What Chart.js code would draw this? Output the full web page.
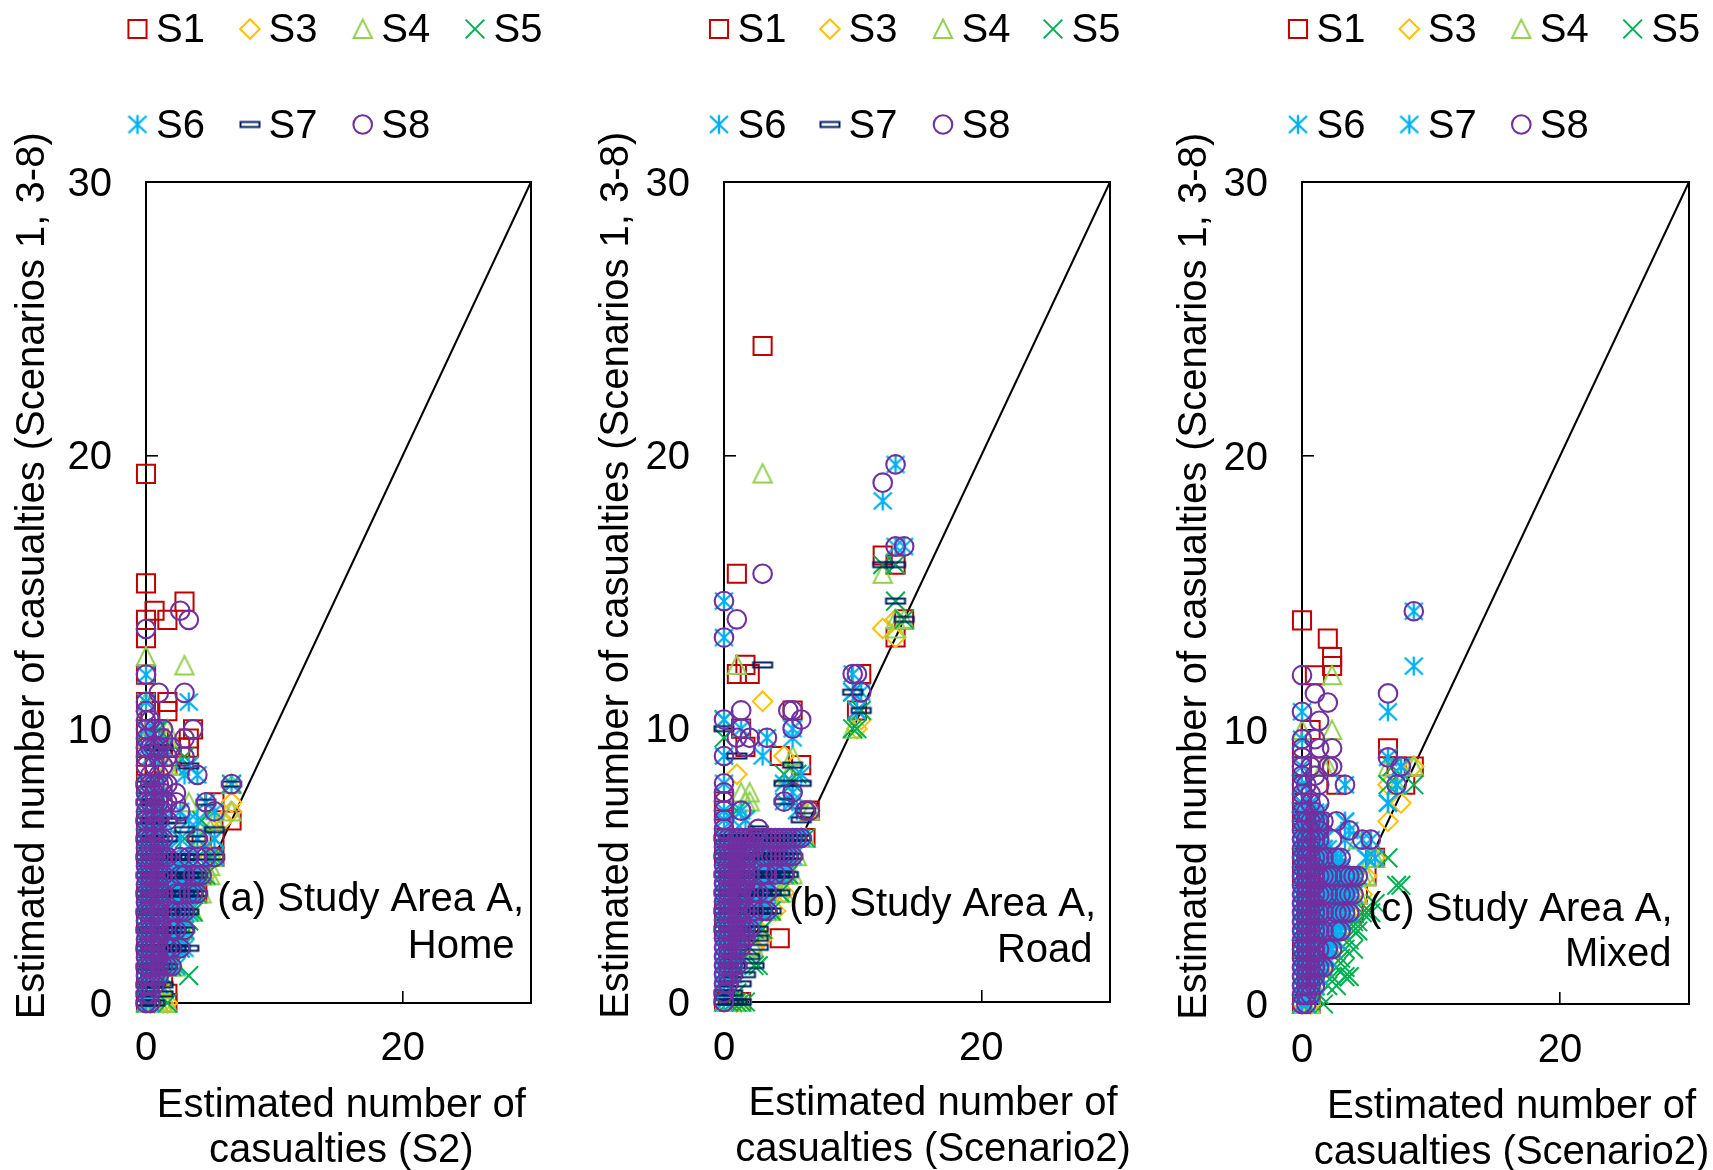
<!DOCTYPE html>
<html><head><meta charset="utf-8">
<script src="https://cdn.jsdelivr.net/npm/chart.js@4/dist/chart.umd.min.js"></script>
<style>html,body{margin:0;padding:0;background:#fff;width:1713px;height:1170px;overflow:hidden}canvas{position:absolute;top:0}</style>
</head><body>
<canvas id="a" style="left:0" width="575" height="1170"></canvas>
<canvas id="b" style="left:575px" width="575" height="1170"></canvas>
<canvas id="c" style="left:1150px" width="563" height="1170"></canvas>
<script>
// Every point sits on a grid of thirds of a casualty.
// Each row is [y in thirds, [x in thirds, ...]].
const SERIES_NAMES = ['S1','S3','S4','S5','S6','S7','S8'];
const Y_TICKS = [0,10,20,30], X_TICKS = [0,20], DIAGONAL = [0,30];

const A_S1=[[0,[0,5]],[1,[5]],[3,[0,4]],[6,[0]],[9,[0]],[12,[0,12]],[14,[13]],[16,[0,16]],[18,[0,13,16]],[20,[0,20]],[22,[16]],[24,[0,2]],[26,[0,2,5]],[27,[0,6]],[28,[0,4,8,10]],[29,[1,3,10]],[30,[0,2,11]],[32,[1,5]],[33,[0,5]],[36,[0]],[40,[0]],[42,[0,5]],[43,[2]],[44,[9]],[46,[0]],[58,[0]]];
const A_S3=[[0,[0,1,2,4,5]],[2,[3]],[4,[5,6]],[6,[7]],[8,[8]],[10,[9,10]],[12,[11,12]],[14,[13,14]],[16,[15,16]],[18,[12]],[20,[15,18]],[21,[20]],[22,[20]]];
const A_S4=[[0,[0,2,3,4,5]],[2,[3,4]],[4,[6,7]],[6,[7]],[8,[8,9]],[10,[10,11]],[12,[12,13]],[14,[14,15]],[15,[15]],[16,[16]],[18,[13]],[20,[14,16]],[21,[20]],[22,[10]],[24,[3,20]],[26,[5,8]],[29,[0,5]],[30,[5]],[33,[0]],[37,[9]],[38,[0]]];
const A_S5=[[0,[0,5]],[3,[1,4,10]],[4,[5,6]],[6,[4,7,8]],[7,[8]],[8,[7,9]],[9,[9,10]],[10,[10,11]],[12,[11,12]],[14,[12,13,14]],[16,[15,16]],[18,[9,12,16]],[20,[13]],[24,[20]],[26,[10]],[27,[9]],[30,[3]]];
const A_S6=[[0,[0,1]],[1,[0,1]],[2,[0,1,3]],[3,[0,1,2,3]],[4,[0,1,2,3,4,5,7]],[5,[0,1,2,3,4,5]],[6,[0,1,2,3,4,5,6,7,8,9]],[7,[0,1,2,3,4,5,6]],[8,[0,1,2,3,4,5,6,7,8,9]],[9,[0,1,2,3,4,5,6,7]],[10,[0,1,2,3,4,5,6,7,8,9,10]],[11,[0,1,2,3,4,5,6,7,8]],[12,[0,1,2,3,4,5,6,7,8,9,10,11]],[13,[0,1,2,3,4,5,6,7,8]],[14,[0,1,2,3,4,5,7,8,9,10,11,12]],[15,[0,1,2,3,4,5,6,7,8]],[16,[0,1,2,3,4,6,8,10,12,16]],[17,[0,1,2,3,4,5]],[18,[0,1,2,3,4,8,12,16]],[19,[0,1,2,3]],[20,[0,1,2,3,4,10,12]],[21,[3,8,16]],[22,[0,1,3,14]],[24,[0,2,3,20]],[25,[9,12]],[26,[10]],[27,[1,3]],[28,[0,2,4]],[30,[0,2]],[33,[0,10]],[36,[0]]];
const A_S7=[[0,[0,1,2]],[1,[0,4]],[2,[0,1,2,4]],[4,[0,1,2,3,5]],[6,[0,1,2,3,4,5,6,7,8,10]],[8,[0,1,2,3,4,5,6,7,9]],[10,[0,1,2,3,5,6,7,8,9,10]],[12,[0,1,2,3,4,6,7,8,9,10,11,12]],[14,[0,1,2,3,5,6,7,8,9,10,11,12]],[16,[0,1,2,3,4,5,6,7,8,9,10,12,16]],[18,[0,1,2,3,5,12]],[19,[9,16]],[20,[0,1,3,5,7]],[22,[0,1,2,14]],[24,[0,20]],[26,[10]],[28,[2,4]]];
const A_S8=[[0,[0,1]],[1,[0,1]],[2,[0,1,2]],[3,[0,1,2,3]],[4,[0,1,2,3,4,5,6]],[5,[0,1,2,3]],[6,[0,1,2,3,5,6,8]],[7,[0,1,2,3]],[8,[0,1,2,3,4,6,7,9]],[9,[0,1,2,3]],[10,[0,1,2,3,6,7,8,9]],[11,[0,1,2,3]],[12,[0,1,2,3,4,7,8,10,11,12]],[13,[0,1,2,3]],[14,[0,1,2,3,4,8,9,11,12,13]],[15,[0,1,2,3]],[16,[0,1,2,3,4,5,8,10,12,14,16]],[17,[0,1,2,3]],[18,[0,1,2,3,4,12]],[19,[0,2]],[20,[0,1,2,3,5]],[21,[0,2,4,8,16]],[22,[0,1,2,3,4,5,7,14]],[23,[0,2,4,7]],[24,[0,1,2,3,4,5,20]],[25,[1,3,12]],[26,[0,2,4]],[27,[0,3,5,9]],[28,[0,1,2,3,6]],[29,[0,4,9]],[30,[0,2,4,11]],[31,[0,1]],[32,[0]],[33,[0]],[34,[3,9]],[36,[0]],[41,[0]],[42,[10]],[43,[8]]];

const B_S1=[[0,[0,4]],[7,[13]],[8,[0]],[10,[0]],[16,[0]],[18,[0,19]],[21,[0,20]],[22,[0]],[26,[18]],[27,[13]],[28,[5]],[30,[4]],[32,[16,31]],[36,[3,6,32]],[37,[5]],[40,[40]],[42,[42]],[47,[3]],[48,[40]],[49,[37]],[72,[9]]];
const B_S3=[[0,[0,3,4]],[6,[7]],[7,[9]],[8,[8]],[10,[10,12]],[12,[12,14]],[14,[14]],[16,[16]],[18,[18]],[21,[20]],[25,[3]],[27,[14]],[30,[31]],[31,[32]],[33,[9]],[40,[40]],[41,[37]],[42,[40]]];
const B_S4=[[0,[0,4]],[6,[7]],[8,[7,8]],[10,[10,11]],[12,[13,14]],[14,[14,15,16]],[16,[17]],[18,[19]],[21,[20]],[22,[5,6]],[23,[4,6]],[25,[15]],[27,[16]],[30,[30]],[37,[3]],[41,[40]],[42,[40,42]],[47,[37]],[58,[9]]];
const B_S5=[[0,[0,1,2,3,4,5]],[1,[3]],[4,[7,8]],[6,[6]],[8,[7,9]],[10,[11]],[12,[13]],[14,[14,15]],[18,[19]],[20,[5]],[21,[3]],[24,[16]],[25,[14,17]],[29,[0]],[30,[30,31]],[31,[0]],[32,[31,32]],[34,[30]],[42,[42]],[44,[40]],[48,[37,40]]];
const B_S6=[[0,[0]],[1,[0]],[2,[0,1]],[3,[0,1,2]],[4,[0,1,2,3]],[5,[0,1,2,3]],[6,[0,1,2,3]],[7,[0,1,2,3,4]],[8,[0,1,2,3,4,5,6]],[9,[0,1,2,3,4,5,6,7]],[10,[0,1,2,3,4,5,6,7,8,9,10]],[11,[0,1,2,3,4,5,6,7,8,9]],[12,[0,1,2,3,4,5,6,7,8,9,10]],[13,[0,1,2,3,4,5,6,7,8,9,10,11]],[14,[0,1,2,3,4,5,6,7,8,9,10,11,12,13,14]],[15,[0,1,2,3,4,5,6,7,8,9,10,11,12,13,14]],[16,[0,1,2,3,4,5,6,7,8,9,10,11,12,13,14,15,16]],[17,[0,1,2,3,4,5,6,7,8,9,10,11,12,13,14,15]],[18,[0,1,2,3,4,5,6,7,8,9,10,11,12,13,14,15,16,17,18]],[20,[0,2,5]],[21,[0,4,17]],[22,[14,16]],[23,[16]],[24,[0,14]],[25,[18]],[27,[0,9]],[29,[10,16]],[30,[4,16]],[31,[0]],[32,[31]],[34,[30,32]],[36,[30]],[40,[0]],[44,[0]],[50,[40,42]],[55,[37]],[59,[40]]];
const B_S7=[[0,[0,1,2,3,4]],[1,[0,2]],[2,[1,4]],[3,[2,5]],[4,[1,3,7]],[5,[2,6]],[6,[3,8]],[7,[4,8]],[8,[0,2,4,6,8]],[10,[0,1,2,3,4,5,6,7,8,9,10,11]],[12,[0,1,2,3,4,5,6,7,8,9,10,11,13]],[14,[0,1,2,3,4,5,6,7,8,9,10,11,12,13,14,15]],[16,[0,1,2,3,4,5,6,7,8,9,10,11,12,13,14,15,16]],[18,[0,1,2,3,4,5,6,7,8,9,10,11,12,13,14,15,16,17,18]],[19,[8]],[20,[18]],[21,[19]],[22,[14]],[24,[14,18]],[26,[16]],[27,[3]],[30,[0]],[32,[32]],[34,[30]],[37,[9]],[42,[42]],[44,[40]],[48,[37,40]]];
const B_S8=[[0,[0]],[1,[0]],[2,[0,1]],[3,[0,1,2]],[4,[0,1,2,3]],[5,[0,1,2]],[6,[0,1,2,3,4]],[7,[0,1,2,3,4,5]],[8,[0,1,2,3,4,5,6]],[9,[0,1,2,3,4]],[10,[0,1,2,3,4,5,7,9,10]],[11,[0,1,2,3,4]],[12,[0,1,2,3,4,5,7,8,10]],[13,[0,1,2,3,4,5]],[14,[0,1,2,3,4,5,6,9,10,12,14]],[15,[0,1,2,3,4,5]],[16,[0,1,2,3,4,5,6,9,10,11,12,13,14,15,16]],[17,[0,1,2,3,4,5,6,7]],[18,[0,1,2,3,4,5,6,7,8,9,10,11,12,13,14,15,16,17,18]],[19,[0,8]],[20,[0]],[21,[0,4,19,20]],[22,[0,14]],[23,[0,16]],[24,[0]],[27,[0]],[28,[5]],[29,[3,6,10]],[30,[4,16]],[31,[0,18]],[32,[4,15,16]],[34,[32]],[36,[30,31]],[40,[0]],[42,[3]],[44,[0]],[47,[9]],[50,[40,42]],[57,[37]],[59,[40]]];

const C_S1=[[0,[0,2]],[6,[0]],[10,[12]],[12,[13]],[14,[0,15]],[16,[0,17]],[20,[0,1]],[21,[0]],[22,[0]],[24,[0,8,24]],[26,[0,4,22,26]],[28,[0,20]],[30,[2]],[36,[3]],[37,[7]],[38,[7]],[40,[6]],[42,[0]]];
const C_S3=[[0,[0,2]],[4,[5]],[8,[9]],[10,[11]],[12,[12,14]],[14,[15]],[16,[17]],[20,[20]],[22,[23]],[24,[20]],[26,[26]]];
const C_S4=[[0,[0,1,2]],[2,[3]],[4,[5]],[6,[7]],[8,[9]],[10,[11]],[12,[12,13]],[14,[14,15]],[16,[16,17]],[18,[13]],[24,[22]],[26,[5,6,20,26]],[30,[0,7]],[36,[7]]];
const C_S5=[[0,[0,5]],[1,[2,4]],[2,[3,6,8]],[3,[7,10,11]],[4,[8,10]],[5,[9]],[6,[10,12]],[7,[11]],[8,[12,13]],[9,[12,13]],[10,[14,15,16]],[11,[17]],[13,[22,23]],[16,[20]],[24,[20,26]],[26,[21]]];
const C_S6=[[0,[0,1]],[1,[0,1,2]],[2,[0,1,2,3]],[3,[0,1,2,3,4]],[4,[0,1,2,3,4,5]],[5,[0,1,2,3,4,5,6]],[6,[0,1,2,3,4,5,6,7]],[7,[0,1,2,3,4,5,6,7,8]],[8,[0,1,2,3,4,5,6,7,8,9]],[9,[0,1,2,3,4,5,6,7,8,9]],[10,[0,1,2,3,4,5,6,7,8,9,10,11]],[11,[0,1,2,3,4,5,6,7,8,9,10]],[12,[0,1,2,3,4,5,6,7,8,9,10,11,12]],[13,[0,1,2,3,4,5,6,7,8,9,10,11]],[14,[0,1,2,3,4,5,6,7,8,9,10,11,12,13]],[15,[0,1,2,3,4,5,6,7,8]],[16,[0,1,2,3,4,5,6,7,8,9,15,17]],[17,[0,1,2,3,4,5]],[18,[0,1,2,3,5,10,14,16]],[19,[11]],[20,[0,1,2,3,4,10]],[22,[0,2,20]],[24,[0,1,10,22]],[26,[0,23]],[27,[20]],[29,[0]],[32,[0,20]],[37,[26]],[43,[26]]];
const C_S7=[[3,[0,1,2,3]],[5,[0,1,2,3,4,5]],[7,[0,1,2,3,4,5,6,7]],[9,[0,1,2,3,4,5,6,7,8,9]],[11,[0,1,2,3,4,5,6,7,8,9,10]],[13,[0,1,2,3,4,5,6,7,8,9,10,11]],[15,[0,1,2,3,4,5,6,7,8,9]],[16,[0,1,2,3,4,5,6,15]],[17,[0,1,2,3,4,5,6]],[18,[0,1,2,3,4,5]],[19,[0,1,2,3,4]],[20,[0,1,2,3,4,5,10]],[21,[0,1,2,3,4]],[22,[0,2,20]],[24,[22]],[26,[23]]];
const C_S8=[[0,[0,1]],[1,[0,1,2]],[2,[0,1,2,3]],[3,[0,1,2,3]],[4,[0,1,2,3,4,5]],[5,[0,1,2,3]],[6,[0,1,2,3,4,6,7]],[7,[0,1,2,3]],[8,[0,1,2,3,4,5,8,9]],[9,[0,1,2,3]],[10,[0,1,2,3,4,5,8,9,10,11]],[11,[0,1,2,3]],[12,[0,1,2,3,4,5,6,9,10,11,12]],[13,[0,1,2,3]],[14,[0,1,2,3,4,5,6,7,10,11,12,13]],[15,[0,1,2,3]],[16,[0,1,2,3,4,5,8,9]],[17,[0,1,2]],[18,[0,1,2,3,4,7,14,16]],[19,[0,2,4,11]],[20,[0,1,2,3,4,5,8]],[21,[0,1,3]],[22,[0,2,4]],[23,[0,2]],[24,[0,1,4,10,22]],[25,[0,3]],[26,[0,2,6,7,23]],[27,[0,20]],[28,[0,4,7]],[29,[0,3]],[31,[4]],[32,[0]],[33,[6]],[34,[3,20]],[36,[0]],[43,[26]]];

const pts = rows => rows.flatMap(([y,xs]) => xs.map(x => ({x:x/3, y:y/3})));

const RED='#C00000',AMBER='#FFC000',LIME='#92D050',GREEN='#00B050',SKY='#00B0F0',NAVY='#002060',PURPLE='#7030A0';
const FONT='"Liberation Sans", Arial, sans-serif', FS=40;

function glyph(w,h,color,lw,path){
  const c=document.createElement('canvas');c.width=w;c.height=h;
  const g=c.getContext('2d');g.strokeStyle=color;g.lineWidth=lw;g.lineJoin='miter';g.beginPath();path(g);g.stroke();return c;
}
const TRI=glyph(24,24,LIME,2,g=>{g.moveTo(12,2.6);g.lineTo(21.2,21);g.lineTo(2.8,21);g.closePath();});
const AST=c=>glyph(24,24,c,2.4,g=>{g.moveTo(12,2.5);g.lineTo(12,21.5);g.moveTo(3,3.5);g.lineTo(21,20.5);g.moveTo(21,3.5);g.lineTo(3,20.5);});
const DASH=glyph(24,10,NAVY,2,g=>{g.rect(2.5,2.5,19,5);});

const STY=(s7sky)=>[
 {c:RED,ps:'rect',r:12.8,bw:2},
 {c:AMBER,ps:'rectRot',r:9.8,bw:2},
 {c:LIME,ps:TRI,r:10,bw:0},
 {c:GREEN,ps:'crossRot',r:13.2,bw:2},
 {c:SKY,ps:AST(SKY),r:10,bw:0},
 s7sky?{c:SKY,ps:AST(SKY),r:10,bw:0}:{c:NAVY,ps:DASH,r:10,bw:0},
 {c:PURPLE,ps:'circle',r:9.3,bw:2.1}
];

const PANELS=[
 {id:'a',off:0,w:575,left:146,right:531,bottom:1003,yTitleTop:9,tickPad:34,
  series:[A_S1,A_S3,A_S4,A_S5,A_S6,A_S7,A_S8],s7sky:false,
  xTitle:['Estimated number of','casualties (S2)'],xTitleAt:[341.4,1105.5,1151.4],
  legendX:[137.5,250,362.7,475],
  note:[['(a) Study Area A,',524,899.5],['Home',514.5,946.5]]},
 {id:'b',off:575,w:575,left:724,right:1110,bottom:1002,yTitleTop:18,tickPad:35,
  series:[B_S1,B_S3,B_S4,B_S5,B_S6,B_S7,B_S8],s7sky:false,
  xTitle:['Estimated number of','casualties (Scenario2)'],xTitleAt:[933,1104.4,1150.3],
  legendX:[719,830,943,1053],
  note:[['(b) Study Area A,',1096,905],['Road',1092.5,950.5]]},
 {id:'c',off:1150,w:563,left:1302,right:1689,bottom:1004,yTitleTop:21,tickPad:35,
  series:[C_S1,C_S3,C_S4,C_S5,C_S6,C_S7,C_S8],s7sky:true,
  xTitle:['Estimated number of','casualties (Scenario2)'],xTitleAt:[1511.5,1106.6,1152.5],
  legendX:[1298,1409.3,1521.3,1632.7],
  note:[['(c) Study Area A,',1672.6,909.5],['Mixed',1671.6,955]]}
];
const TOP=182, LEGEND_Y=[29,124.5], LEGEND_TEXT_GAP=18.5;

PANELS.forEach(p=>{
  const sty=STY(p.s7sky);
  const datasets=p.series.map((rows,i)=>({
    label:SERIES_NAMES[i],data:pts(rows),clip:false,order:6-i,showLine:false,
    pointStyle:sty[i].ps,pointRadius:sty[i].r,pointBorderWidth:sty[i].bw,
    pointBorderColor:sty[i].c,pointBackgroundColor:'rgba(0,0,0,0)',borderColor:sty[i].c,backgroundColor:'rgba(0,0,0,0)'
  }));
  datasets.push({label:'1:1',data:DIAGONAL.map(v=>({x:v,y:v})),showLine:true,pointRadius:0,borderColor:'#000',borderWidth:2,order:10,clip:false});
  const frame={id:'frame',beforeDatasetsDraw(ch){
    const a=ch.chartArea,g=ch.ctx;g.save();g.strokeStyle='#000';g.lineWidth=2;g.strokeRect(a.left,a.top,a.right-a.left,a.bottom-a.top);g.restore();
  }};
  const overlay={id:'overlay',afterDraw(ch){
    const g=ch.ctx;g.save();g.font=FS+'px '+FONT;g.fillStyle='#000';g.textBaseline='middle';
    p.note.forEach(([t,x,y])=>{g.textAlign='right';g.fillText(t,x-p.off,y);});
    g.textAlign='center';
    g.fillText(p.xTitle[0],p.xTitleAt[0]-p.off,p.xTitleAt[1]);
    g.fillText(p.xTitle[1],p.xTitleAt[0]-p.off,p.xTitleAt[2]);
    g.textAlign='left';
    SERIES_NAMES.forEach((n,i)=>{
      const col=i<4?i:i-4,row=i<4?0:1,x=p.legendX[col]-p.off,y=LEGEND_Y[row],s=sty[i];
      g.strokeStyle=s.c;g.fillStyle='rgba(0,0,0,0)';g.lineWidth=s.bw||1;
      Chart.helpers.drawPoint(g,{pointStyle:s.ps,radius:s.r,borderWidth:s.bw,rotation:0},x,y);
      g.fillStyle='#000';g.fillText(n,x+LEGEND_TEXT_GAP,y+2);
    });
    g.restore();
  }};
  new Chart(document.getElementById(p.id),{
    type:'scatter',data:{datasets},plugins:[frame,overlay],
    options:{responsive:false,animation:false,devicePixelRatio:1,
      layout:{padding:{top:TOP,right:p.off+p.w-p.right,left:0,bottom:0}},
      plugins:{legend:{display:false},tooltip:{enabled:false},title:{display:false}},
      scales:{
        x:{type:'linear',min:0,max:30,
          afterFit(s){s.height=1170-p.bottom;},
          afterBuildTicks(s){s.ticks=X_TICKS.map(value=>({value}));},
          grid:{drawOnChartArea:false,drawTicks:true,tickLength:-12,color:'#000',lineWidth:1.6},
          border:{display:true,color:'#000',width:2},
          ticks:{color:'#000',padding:p.tickPad,autoSkip:false,maxRotation:0,font:{family:FONT,size:FS}}
        },
        y:{type:'linear',min:0,max:30,
          afterFit(s){s.width=p.left-p.off;},
          afterBuildTicks(s){s.ticks=Y_TICKS.map(value=>({value}));},
          grid:{drawOnChartArea:false,drawTicks:true,tickLength:-12,color:'#000',lineWidth:1.6},
          border:{display:true,color:'#000',width:2},
          ticks:{color:'#000',padding:46,labelOffset:2.5,autoSkip:false,font:{family:FONT,size:FS}},
          title:{display:true,text:'   Estimated number of casualties (Scenarios 1, 3-8)',color:'#000',font:{family:FONT,size:FS,lineHeight:1.2},padding:{top:p.yTitleTop,bottom:0}}
        }
      }
    }
  });
});
</script>
</body></html>
